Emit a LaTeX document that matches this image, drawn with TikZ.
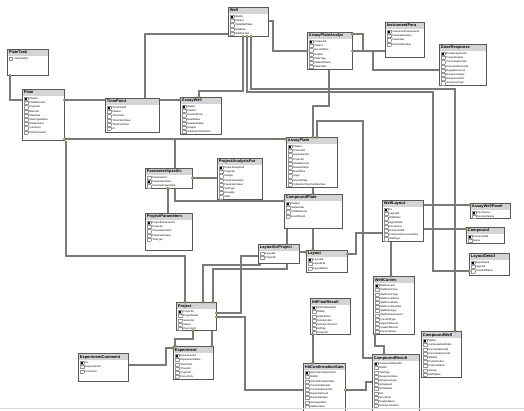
\documentclass[tikz,border=0pt]{standalone}
\usepackage{fontspec}
\setmainfont{Liberation Sans}
\usepackage{tikz}
\pgfdeclarelayer{background}
\pgfdeclarelayer{front}
\pgfsetlayers{background,main,front}

\definecolor{colorBox}{RGB}{88, 88, 88}
\definecolor{colorTitle}{RGB}{212, 212, 212}
\definecolor{colorLine}{RGB}{122, 122, 122}
\definecolor{colorKey}{RGB}{214, 206, 60}
\definecolor{colorIcon}{RGB}{150, 150, 150}

\tikzstyle{tbl} = [draw=colorBox, line width=0.8pt, fill=white, inner sep=0pt, anchor=north west, path picture={\fill[colorTitle] (path picture bounding box.north west) rectangle ([yshift=-6.5pt]path picture bounding box.north east);}]
\tikzstyle{conn} = [draw=colorLine, line width=1.5pt]
\tikzstyle{keymark} = [circle, fill=colorKey, draw=black!70, line width=0.3pt, inner sep=0pt, minimum size=2.8pt]

\newcommand{\fldfont}{\fontsize{2.6}{3}\selectfont}
\newcommand{\ttlfont}{\fontsize{4}{5}\selectfont\bfseries}
\newcommand{\fldicon}{\raisebox{-0.6pt}{\color{colorIcon}\fboxsep0pt\fboxrule0.3pt\fbox{\rule{0pt}{2.8pt}\hspace{3.2pt}}}}
\newcommand{\keyicon}{\raisebox{-0.6pt}{\color{colorIcon}\fboxsep0pt\fboxrule0.3pt\fbox{\rule{0pt}{2.8pt}\hspace{0.7pt}{\color{black}\rule[0.6pt]{1.8pt}{1.6pt}}\hspace{0.7pt}}}}
\newcommand{\fld}[1]{\hbox to\linewidth{\vrule height3.1pt depth1.1pt width0pt\hspace{1.6pt}\fldicon\hspace{1.6pt}{\fldfont #1}\hss}}
\newcommand{\kfld}[1]{\hbox to\linewidth{\vrule height3.1pt depth1.1pt width0pt\hspace{1.6pt}\keyicon\hspace{1.6pt}{\fldfont #1}\hss}}
\newcommand{\dbtab}[4]{\begin{minipage}[t][#2pt][t]{#1pt}\offinterlineskip\hbox to\linewidth{\vrule height4.6pt depth1.9pt width0pt\hspace{1.5pt}{\ttlfont #3}\hss}\vskip0.6pt #4\end{minipage}}

\begin{document}
\begin{tikzpicture}[x=1pt, y=-1pt]

	\useasboundingbox (0,0) rectangle (524,411);

	% tables, top row
	\node (tWell)[tbl] at (228,7) {\dbtab{40}{29}{Well}{\kfld{WellId}\fld{PlateId}\fld{PlateWellIndex}\fld{WellRow}\fld{WellColumn}}};
	\node (tApa)[tbl] at (307,32) {\dbtab{45}{37}{AssayPlateAnalys}{\kfld{AnalysisId}\fld{PlateId}\fld{RecordTime}\fld{Analyte}\fld{PlateType}\fld{PlateSetName}\fld{PlateIndex}}};
	\node (tInstr)[tbl] at (385,22) {\dbtab{39}{35}{InstrumentPara}{\kfld{InstrumentParameterId}\fld{ParameterName}\fld{Parameter}\fld{ParameterValue}}};
	\node (tDose)[tbl] at (439,44) {\dbtab{47}{41}{DoseResponse}{\kfld{DoseResponseId}\fld{ProjectAnalyte}\fld{ConcentrationVal}\fld{ConcentrationUnits}\fld{RegulationLevel}\fld{ResponseValue}\fld{ResponseUnits}\fld{ResponseType}}};

	\node (tPlateTask)[tbl] at (7,49) {\dbtab{41}{26}{PlateTask}{\fld{PlateTaskId}}};
	\node (tPlate)[tbl] at (22,89) {\dbtab{42}{51}{Plate}{\kfld{PlateId}\fld{PlateBarcode}\fld{ProjectId}\fld{Barcode}\fld{PlateSize}\fld{PlateTypeName}\fld{PlateFormat}\fld{Comment}\fld{PlateFormatId}}};
	\node (tTimePoint)[tbl] at (105,98) {\dbtab{54}{34}{TimePoint}{\kfld{TimePointId}\fld{PlateId}\fld{TimePoint}\fld{TimePointValue}\fld{TimePointUnit}\fld{Id}}};
	\node (tAssayWell)[tbl] at (180,97) {\dbtab{41}{37}{AssayWell}{\kfld{WellId}\fld{PlateId}\fld{ReadoutTime}\fld{ReadValue}\fld{ReadoutValue}\fld{Analyte}\fld{CollectionTimePoint}}};

	% tables, middle
	\node (tAssayPlate)[tbl] at (286,137) {\dbtab{51}{50}{AssayPlate}{\kfld{PlateId}\fld{ProtocolId}\fld{ExperimentId}\fld{ProjectId}\fld{PlateBarcode}\fld{ReaderName}\fld{ReadTime}\fld{Flags}\fld{SourcePlate}\fld{CollectionTimePointNumber}}};
	\node (tProjAnPar)[tbl] at (217,158) {\dbtab{45}{41}{ProjectAnalysisPar}{\kfld{ProjectAnalysisId}\fld{ProjectId}\fld{Analyte}\fld{ParameterName}\fld{ParameterValue}\fld{TestType}\fld{GroupBy}\fld{Filter}}};
	\node (tParamSpec)[tbl] at (145,168) {\dbtab{47}{20}{ParameterSpecific}{\fld{ParameterId}\kfld{ParameterName}\fld{ParameterSpecified}}};
	\node (tProjParam)[tbl] at (145,213) {\dbtab{47}{37}{ProjectParameters}{\kfld{ProjectParameterId}\fld{ProjectId}\fld{ParameterName}\fld{ParameterValue}\fld{TestType}}};
	\node (tCompPlate)[tbl] at (284,194) {\dbtab{58}{34}{CompoundPlate}{\kfld{PlateId}\fld{SetNumber}\fld{PlateBarcode}\fld{UserPlateId}}};
	\node (tLayoutProj)[tbl] at (258,244) {\dbtab{41}{19}{LayoutforProject}{\fld{LayoutId}\fld{ProjectId}}};
	\node (tLayout)[tbl] at (306,250) {\dbtab{41}{22}{Layout}{\kfld{LayoutId}\fld{LayoutFile}\fld{LayoutName}}};
	\node (tWellLayout)[tbl] at (382,200) {\dbtab{41}{41}{WellLayout}{\kfld{Id}\fld{LayoutId}\fld{WellIndex}\fld{AgentSetId}\fld{FunctionId}\fld{CompoundId}\fld{CompoundConcentration}\fld{WellType}}};
	\node (tPanel)[tbl] at (470,203) {\dbtab{40}{15}{AssayWellPanel}{\kfld{FunctionId}\fld{FunctionName}}};
	\node (tCompound)[tbl] at (466,227) {\dbtab{38}{16}{Compound}{\kfld{CompoundId}\fld{Name}}};
	\node (tLayDetail)[tbl] at (469,253) {\dbtab{40}{22}{LayoutDetail}{\kfld{AgentSetId}\fld{AgentId}\fld{UserDefName}}};

	% tables, bottom (run past the page edge)
	\node (tWellCurves)[tbl] at (373,276) {\dbtab{41}{58}{WellCurves}{\kfld{WellCurveId}\fld{WellDataCurve}\fld{WellCurveType}\fld{WellCurveName}\fld{WellCurveData}\fld{WellCurveNumber}\fld{WellDataType}\fld{WellDataDocument}\fld{CurveFitType}\fld{UpperFitBound}\fld{LowerFitBound}\fld{FitCurveData}}};
	\node (tCompWell)[tbl] at (421,331) {\dbtab{40}{46}{CompoundWell}{\kfld{WellId}\fld{CompoundSetOrder}\fld{ConcentrationVal}\fld{ConcentrationUnits}\fld{WellSet}\fld{PositionIndex}\fld{ProtocolName}\fld{Activity}\fld{WellStatus}}};
	\node (tCompResult)[tbl] at (372,354) {\dbtab{47}{66}{CompoundResult}{\kfld{CompoundResultId}\fld{WellId}\fld{TestType}\fld{ResponseValue}\fld{ResponseType}\fld{IsAnalyzed}\fld{EC50Value}\fld{Hill}\fld{ScoreTest}\fld{AnalyteName}\fld{ActivityComment}}};
	\node (tHitFinal)[tbl] at (310,298) {\dbtab{40}{36}{HitFinalResult}{\kfld{HitFinalResultId}\fld{WellId}\fld{HitSetIndex}\fld{ActivityIndex}\fld{ActivityComment}\fld{HitFlag}\fld{ProjectId}}};
	\node (tHitConf)[tbl] at (303,363) {\dbtab{42}{58}{HitConfirmationSum}{\kfld{HitConfirmationSumId}\fld{WellId}\fld{HitConfirmationIndex}\fld{ConcentrationVal}\fld{ConcentrationUnits}\fld{ReplicateCount}\fld{ReplicateValue}\fld{AverageValue}\fld{StdDeviation}}};
	\node (tProject)[tbl] at (176,302) {\dbtab{40}{28}{Project}{\kfld{ProjectId}\fld{ProjectName}\fld{SeriesNo}\fld{Status}\fld{PersonInfo}}};
	\node (tExperiment)[tbl] at (173,346) {\dbtab{40}{33}{Experiment}{\kfld{ExperimentId}\fld{ExperimentName}\fld{TimePoint}\fld{TimeUnit}\fld{ProjectId}\fld{PersonInfo}}};
	\node (tExpComment)[tbl] at (78,353) {\dbtab{50}{28}{ExperimentComment}{\kfld{Id}\fld{ExperimentId}\fld{Comment}}};

	% relationships
	\begin{pgfonlayer}{background}
	\draw[conn] ([xshift=3pt]tPlateTask.south west) coordinate (k1) |- ([yshift=-11pt]tPlate.north west);
	\draw[conn] ([yshift=-11pt]tPlate.north east) coordinate (k2) -- ([yshift=-2pt]tTimePoint.north west);
	\draw[conn] ([yshift=-2pt]tTimePoint.north east) -- ([yshift=-3pt]tAssayWell.north west) coordinate (k3);
	\draw[conn] ([xshift=40pt]tTimePoint.north west) |- ([yshift=-27pt]tWell.north west);
	\draw[conn] ([yshift=-14pt]tWell.north east) -- ++(4,0) |- ([yshift=-19pt]tApa.north west) coordinate (k4);
	\draw[conn] ([yshift=-2pt]tApa.north east) coordinate (k5) -- ++(10,0) |- ([yshift=-29pt]tInstr.north west);
	\draw[conn] ([yshift=-19pt]tApa.north east) coordinate (k6) -- ++(20,0) |- ([yshift=-26pt]tDose.north west);
	\draw[conn] ([xshift=15pt]tWell.south west) coordinate (k7) -- ++(0,54) -| ([xshift=19pt]tAssayWell.north west) coordinate (k8);
	\draw[conn] ([xshift=23pt]tWell.south west) coordinate (k9) -- ++(0,52) -| ([xshift=34pt]tCompWell.north west) coordinate (k10);
	\draw[conn] ([xshift=19pt]tWell.south west) coordinate (k11) -- ++(0,55) -- ++(186,0) |- ([yshift=-18pt]tLayDetail.north west) coordinate (k12);
	\draw[conn] ([xshift=22pt]tApa.south west) -- ++(0,36) -| ([xshift=27pt]tAssayPlate.north west) coordinate (k13);
	\draw[conn] ([xshift=31pt]tAssayPlate.north west) coordinate (k14) -- ++(0,-16) -- ++(46,0) |- ([yshift=-4pt]tCompResult.north west);
	\draw[conn] ([yshift=-50pt]tPlate.north east) coordinate (k15) -- ([yshift=-2pt]tAssayPlate.north west) coordinate (k16);
	\draw[conn] ([yshift=-50pt]tPlate.north east) -- ++(110,0) |- ([yshift=-7pt]tCompPlate.north west) coordinate (k17);
	\draw[conn] ([xshift=1pt]tPlate.south east) -- ++(0,115) -| ([xshift=9pt]tProject.north west) coordinate (k18);
	\draw[conn] ([xshift=3pt]tCompPlate.south west) -- ++(0,40) -| ([xshift=37pt]tProject.north west) coordinate (k19);
	\draw[conn] ([xshift=27pt]tProject.north west) coordinate (k20) -- ++(0,-37) -| ([xshift=2pt]tLayoutProj.south west);
	\draw[conn] ([yshift=-12pt]tLayoutProj.north west) -- ++(-17,0) |- ([yshift=-11pt]tProject.north east) coordinate (k21);
	\draw[conn] ([yshift=-27pt]tHitConf.north west) -- ++(-58,0) |- ([yshift=-15pt]tProject.north east) coordinate (k22);
	\draw[conn] ([yshift=-10pt]tParamSpec.north east) coordinate (k23) -- ([yshift=-20pt]tProjAnPar.north west);
	\draw[conn] ([xshift=23pt]tProjParam.north west) -- ([xshift=23pt]tParamSpec.south west) coordinate (k24);
	\draw[conn] ([xshift=27pt]tAssayPlate.south west) -- ([xshift=29pt]tCompPlate.north west) coordinate (k25);
	\draw[conn] ([xshift=29pt]tCompPlate.south west) -- ([xshift=7pt]tLayout.north west) coordinate (k26);
	\draw[conn] ([yshift=-8pt]tLayoutProj.north east) -- ([yshift=-2pt]tLayout.north west) coordinate (k27);
	\draw[conn] ([yshift=-4pt]tLayout.north east) coordinate (k28) -- ++(8,0) |- ([yshift=-33pt]tWellLayout.north west);
	\draw[conn] ([yshift=-5pt]tWellLayout.north east) -- ([yshift=-2pt]tPanel.north west) coordinate (k29);
	\draw[conn] ([yshift=-29pt]tWellLayout.north east) -- ([yshift=-2pt]tCompound.north west) coordinate (k30);
	\draw[conn] ([xshift=9pt]tWellLayout.south west) -- ([xshift=18pt]tWellCurves.north west) coordinate (k31);
	\draw[conn] ([xshift=2pt]tWellCurves.south west) coordinate (k32) -- ++(0,11) -| ([xshift=12pt]tCompResult.north west) coordinate (k33);
	\draw[conn] ([xshift=3pt]tHitFinal.south west) coordinate (k34) -- ([xshift=10pt]tHitConf.north west) coordinate (k35);
	\draw[conn] ([yshift=-27pt]tHitConf.north east) coordinate (k36) -- ++(20,0) |- ([yshift=-28pt]tCompResult.north west);
	\draw[conn] ([xshift=17pt]tProject.south west) coordinate (k37) -- ++(0,8) -| ([xshift=2pt]tExperiment.north west) coordinate (k38);
	\draw[conn] ([xshift=36pt]tProject.south west) -- ([xshift=39pt]tExperiment.north west) coordinate (k39);
	\draw[conn] ([yshift=-12pt]tExpComment.north east) -- ++(37,0) |- ([yshift=-2pt]tExperiment.north west) coordinate (k40);
	\end{pgfonlayer}

	% key ends
	\begin{pgfonlayer}{front}
	\foreach \k in {1,...,40}
		\node (mk\k)[keymark] at (k\k) {};
	\end{pgfonlayer}

	% page break
	\draw[black!15, line width=0.6pt] (0,408) -- (524,408);

\end{tikzpicture}
\end{document}
